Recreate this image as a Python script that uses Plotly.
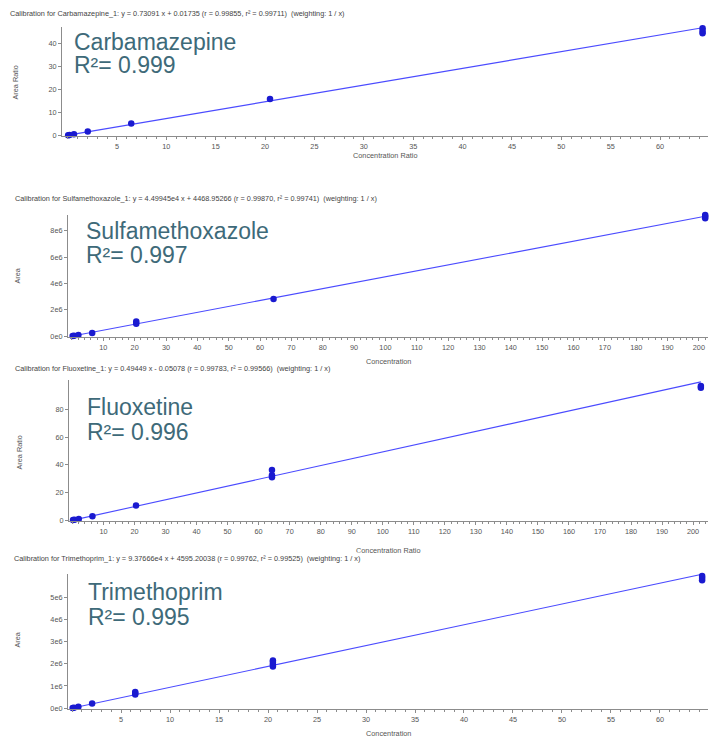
import plotly.graph_objects as go

W, H = 710, 742

# ---------------- data ----------------
compounds = ["Carbamazepine", "Sulfamethoxazole", "Fluoxetine", "Trimethoprim"]
r2_labels = ["0.999", "0.997", "0.996", "0.995"]
header_texts = [
    "Calibration for Carbamazepine_1: y = 0.73091 x + 0.01735 (r = 0.99855, r² = 0.99711)  (weighting: 1 / x)",
    "Calibration for Sulfamethoxazole_1: y = 4.49945e4 x + 4468.95266 (r = 0.99870, r² = 0.99741)  (weighting: 1 / x)",
    "Calibration for Fluoxetine_1: y = 0.49449 x - 0.05078 (r = 0.99783, r² = 0.99566)  (weighting: 1 / x)",
    "Calibration for Trimethoprim_1: y = 9.37666e4 x + 4595.20038 (r = 0.99762, r² = 0.99525)  (weighting: 1 / x)",
]
slopes = [0.73091, 4.49945e4, 0.49449, 9.37666e4]
intercepts = [0.01735, 4468.95266, -0.05078, 4595.20038]
x_titles = ["Concentration Ratio", "Concentration", "Concentration Ratio", "Concentration"]
y_titles = ["Area Ratio", "Area", "Area Ratio", "Area"]

carba_conc = [0.065, 0.2, 0.65, 2.05, 6.45, 20.5, 64.3, 64.3, 64.3]
carba_resp = [0.05, 0.16, 0.48, 1.6, 5.2, 15.9, 44.6, 45.6, 46.8]

sulfa_conc = [0.2, 0.65, 2.05, 6.45, 20.5, 20.5, 64.3, 202, 202, 202]
sulfa_resp = [0.01e6, 0.03e6, 0.09e6, 0.25e6, 0.95e6, 1.12e6, 2.82e6, 8.95e6, 9.08e6, 9.18e6]

fluox_conc = [0.2, 0.65, 2.05, 6.45, 20.5, 64.3, 64.3, 64.3, 202.5, 202.5]
fluox_resp = [0.1, 0.3, 0.9, 2.9, 10.6, 31.0, 32.5, 36.3, 95.8, 97.2]

trim_conc = [0.065, 0.2, 0.65, 2.05, 6.45, 6.45, 6.45, 20.5, 20.5, 20.5, 20.5, 64.3, 64.3, 64.3]
trim_resp = [0.01e6, 0.02e6, 0.06e6, 0.21e6, 0.62e6, 0.68e6, 0.73e6, 1.88e6, 1.98e6, 2.08e6, 2.15e6, 5.76e6, 5.86e6, 5.96e6]

concs = [carba_conc, sulfa_conc, fluox_conc, trim_conc]
resps = [carba_resp, sulfa_resp, fluox_resp, trim_resp]

x_tickvals = [list(range(5, 65, 5)), list(range(10, 210, 10)), list(range(10, 210, 10)), list(range(5, 65, 5))]
y_tickvals = [[0, 10, 20, 30, 40], [0, 2e6, 4e6, 6e6, 8e6], [0, 20, 40, 60, 80], [0, 1e6, 2e6, 3e6, 4e6, 5e6]]
y_ticktext = [["0", "10", "20", "30", "40"], ["0e0", "2e6", "4e6", "6e6", "8e6"],
              ["0", "20", "40", "60", "80"], ["0e0", "1e6", "2e6", "3e6", "4e6", "5e6"]]

# ---------------- layout geometry (pixels) ----------------
boxes = [(62, 708, 27, 137), (68, 708, 216, 339), (69, 708, 382, 524), (68, 708, 577, 713)]
x_ranges = [[-0.56, 64.85], [-1.27, 202.9], [-1.1, 204.8], [-0.41, 64.9]]
y_ranges = [[-0.43, 47.4], [-0.075e6, 9.2e6], [-0.7, 101.5], [-0.045e6, 6.05e6]]
x_minor = [1, 2, 2, 1]
header_pos = [(8, 14), (13, 200), (13, 370), (12, 562)]
label_pos = [(72, 42, 65), (84, 232, 256), (85, 409, 434), (86, 595, 620)]
xtitle_y = [156, 363, 553, 737]
ytitle_pos = [(16, 83), (18, 277), (20, 455), (18, 643)]


def fx(p):
    return p / W


def fy(p):
    return 1 - p / H


TEXT_COLOR = "#3e6a79"
AX_COLOR = "#8c8c8c"
FONT = "Liberation Sans, Arial"
TICK_FONT = dict(family=FONT, size=7.3, color="#555555")

fig = go.Figure()
layout = dict(
    width=W, height=H, margin=dict(l=0, r=0, t=0, b=0),
    paper_bgcolor="white", plot_bgcolor="white", showlegend=False,
    font=dict(family=FONT),
)
annotations = []

for i in range(4):
    n = "" if i == 0 else str(i + 1)
    xa, ya = "x" + n, "y" + n
    l, r, t, b = boxes[i]
    xs = concs[i]
    x0, x1 = min(xs), max(xs)
    fig.add_trace(go.Scatter(
        x=[x0, x1], y=[slopes[i] * x0 + intercepts[i], slopes[i] * x1 + intercepts[i]],
        mode="lines", line=dict(color="#4b4bff", width=1.1), xaxis=xa, yaxis=ya,
        hoverinfo="skip", cliponaxis=False))
    fig.add_trace(go.Scatter(
        x=xs, y=resps[i], mode="markers",
        marker=dict(color="#1a1ad0", size=6.5, line=dict(width=0)),
        xaxis=xa, yaxis=ya, cliponaxis=False))

    layout["xaxis" + n] = dict(
        domain=[fx(l), fx(r)], anchor=ya, range=x_ranges[i],
        tickvals=x_tickvals[i], ticks="outside", ticklen=3, tickcolor=AX_COLOR,
        showline=True, linecolor=AX_COLOR, linewidth=1, showgrid=False, zeroline=False,
        tickfont=TICK_FONT, fixedrange=True,
        minor=dict(ticks="outside", dtick=x_minor[i], ticklen=2, tickcolor=AX_COLOR, showgrid=False),
    )
    layout["yaxis" + n] = dict(
        domain=[fy(b), fy(t)], anchor=xa, range=y_ranges[i],
        tickvals=y_tickvals[i], ticktext=y_ticktext[i], ticks="outside", ticklen=3,
        tickcolor=AX_COLOR, showline=True, linecolor=AX_COLOR, linewidth=1,
        showgrid=False, zeroline=False, tickfont=TICK_FONT, fixedrange=True,
    )

    annotations.append(dict(
        text=x_titles[i], xref="paper", yref="paper", x=fx((l + r) / 2), y=fy(xtitle_y[i]),
        xanchor="center", yanchor="middle", showarrow=False,
        font=dict(family=FONT, size=7.3, color="#555555")))
    annotations.append(dict(
        text=y_titles[i], xref="paper", yref="paper", x=fx(ytitle_pos[i][0]), y=fy(ytitle_pos[i][1]),
        xanchor="center", yanchor="middle", textangle=-90, showarrow=False,
        font=dict(family=FONT, size=7.3, color="#555555")))

for i in range(4):
    hx, hy = header_pos[i]
    annotations.append(dict(
        text=header_texts[i], xref="paper", yref="paper", x=fx(hx), y=fy(hy),
        xanchor="left", yanchor="middle", showarrow=False, bgcolor="white",
        font=dict(family=FONT, size=7.3, color="#444444")))
    lx, ly1, ly2 = label_pos[i]
    annotations.append(dict(
        text=compounds[i], xref="paper", yref="paper", x=fx(lx), y=fy(ly1),
        xanchor="left", yanchor="middle", showarrow=False,
        font=dict(family=FONT, size=23, color=TEXT_COLOR)))
    annotations.append(dict(
        text="R²= " + r2_labels[i], xref="paper", yref="paper", x=fx(lx), y=fy(ly2),
        xanchor="left", yanchor="middle", showarrow=False,
        font=dict(family=FONT, size=23, color=TEXT_COLOR)))

layout["annotations"] = annotations
fig.update_layout(**layout)
fig.write_html(
    "out.html",
    config={"displayModeBar": False},
    post_script="document.body.style.margin='0px';document.body.style.overflow='hidden';",
)
